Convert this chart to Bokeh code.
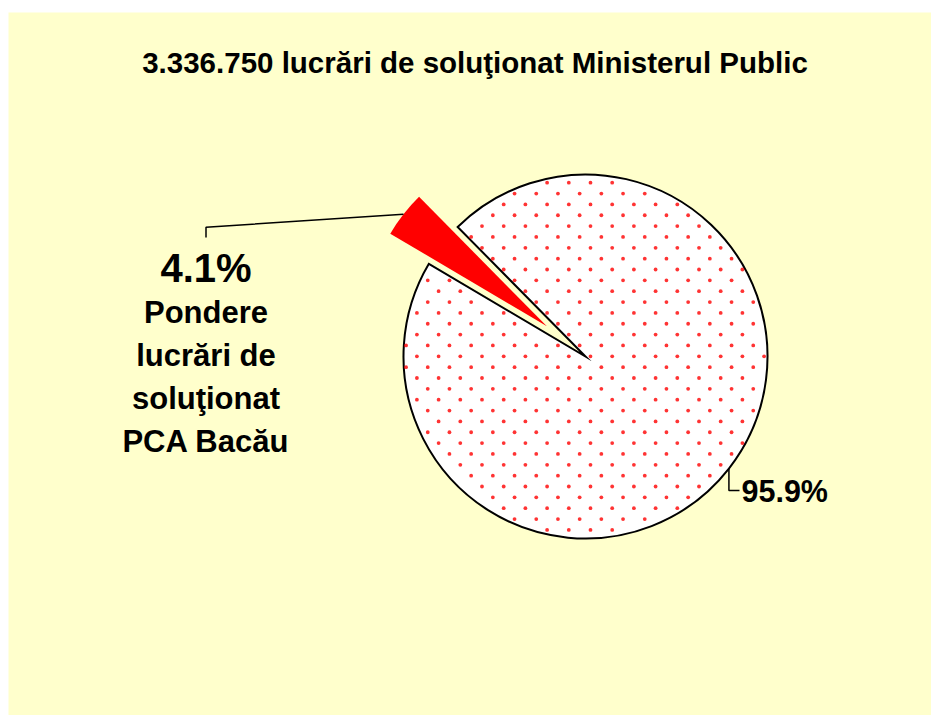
import numpy as np
from bokeh.plotting import figure
from bokeh.models import Range1d, ColumnDataSource
from bokeh.embed import file_html
from bokeh.resources import INLINE
from bokeh.core.properties import value

# ---------------- data ----------------
title_text = "3.336.750 lucrări de soluţionat Ministerul Public"
slice_names = ["PCA Bacău", "Restul Ministerului Public"]
slice_values = [4.1, 95.9]
slice_labels = ["4.1%", "95.9%"]
caption_lines = ["Pondere", "lucrări de", "soluţionat", "PCA Bacău"]

# ---------------- layout / style ----------------
FONT = value("Liberation Sans")
PAGE_H = 715          # data y = PAGE_H - page y (1:1 pixel mapping)
cx0, cy0 = 585.0, PAGE_H - 356.0
R = 182.0
explode = np.array([49.0, 0.0])
start_deg = 134.62
BASE_FIX = 0.34       # empirical baseline correction (fraction of font size)

vals = np.array(slice_values, dtype=float)
frac = vals / vals.sum()
start0 = np.deg2rad(start_deg)
ends = start0 + 2 * np.pi * np.cumsum(frac)
starts = ends - 2 * np.pi * frac
mids = (starts + ends) / 2
cx = cx0 + explode * np.cos(mids)
cy = cy0 + explode * np.sin(mids)

p = figure(width=931, height=715,
           x_range=Range1d(8, 931), y_range=Range1d(0, 703),
           x_axis_type=None, y_axis_type=None,
           toolbar_location=None, output_backend="svg",
           min_border_left=8, min_border_right=0, min_border_bottom=0, min_border_top=12,
           background_fill_color="#FFFFCC", border_fill_color="white",
           outline_line_color=None)

# main slice (95.9%)
main_src = ColumnDataSource(dict(x=[cx[1]], y=[cy[1]], s=[starts[1]], e=[ends[1]],
                                 name=[slice_names[1]]))
p.wedge(x="x", y="y", radius=R, start_angle="s", end_angle="e", source=main_src,
        direction="anticlock", fill_color="white",
        line_color="black", line_width=2, line_join="miter")

# dotted texture of the main slice (staggered red dots)
pitch, row = 21.7, 10.85
jj, ii = np.meshgrid(np.arange(-40, 41), np.arange(-20, 21), indexing="ij")
gx = 611.7 + ii * pitch + (jj % 2) * pitch / 2
gy = PAGE_H - (269.0 + jj * row)
gx, gy = gx.ravel(), gy.ravel()
dx, dy = gx - cx[1], gy - cy[1]
rr = np.hypot(dx, dy)
th = np.mod(np.arctan2(dy, dx) - starts[1], 2 * np.pi)
span = ends[1] - starts[1]
margin = 2.5 / np.maximum(rr, 1)
keep = (rr < R - 2.2) & (th > margin) & (th < span - margin)
p.scatter(x=gx[keep], y=gy[keep], marker="circle", size=3.8,
          fill_color="#FF0000", fill_alpha=0.8, line_color=None)

# exploded slice (4.1%)
small_src = ColumnDataSource(dict(x=[cx[0]], y=[cy[0]], s=[starts[0]], e=[ends[0]],
                                  name=[slice_names[0]]))
p.wedge(x="x", y="y", radius=R, start_angle="s", end_angle="e", source=small_src,
        direction="anticlock", fill_color="#FF0000", line_color=None)

# leader for small slice
lx0 = cx[0] + R * np.cos(mids[0])
ly0 = cy[0] + R * np.sin(mids[0])
label_x = 205.5
p.line(x=[lx0, label_x, label_x], y=[ly0, PAGE_H - 226.7, PAGE_H - 237],
       line_color="black", line_width=1.5)

# leader for main slice
mx0 = cx[1] + R * np.cos(mids[1])
my0 = cy[1] + R * np.sin(mids[1])
p.line(x=[mx0, mx0, 739], y=[my0, PAGE_H - 490, PAGE_H - 490],
       line_color="black", line_width=1.5)


def put_text(xs, baselines, texts, size, align):
    ys = [PAGE_H - b + BASE_FIX * size for b in baselines]
    p.text(x=xs, y=ys, text=texts, text_font=FONT, text_font_style="bold",
           text_font_size=f"{size}px", text_align=align,
           text_baseline="alphabetic", text_color="black")


# title
put_text([474.5], [72], [title_text], 29.5, "center")
# small slice percent
put_text([label_x], [281], [slice_labels[0]], 40, "center")
# caption
base0, step = 323.0, 43.0
put_text([label_x] * len(caption_lines),
         [base0 + i * step for i in range(len(caption_lines))],
         caption_lines, 31, "center")
# main slice percent
put_text([741], [501], [slice_labels[1]], 30.5, "left")

open("out.html", "w").write(file_html(p, INLINE))
